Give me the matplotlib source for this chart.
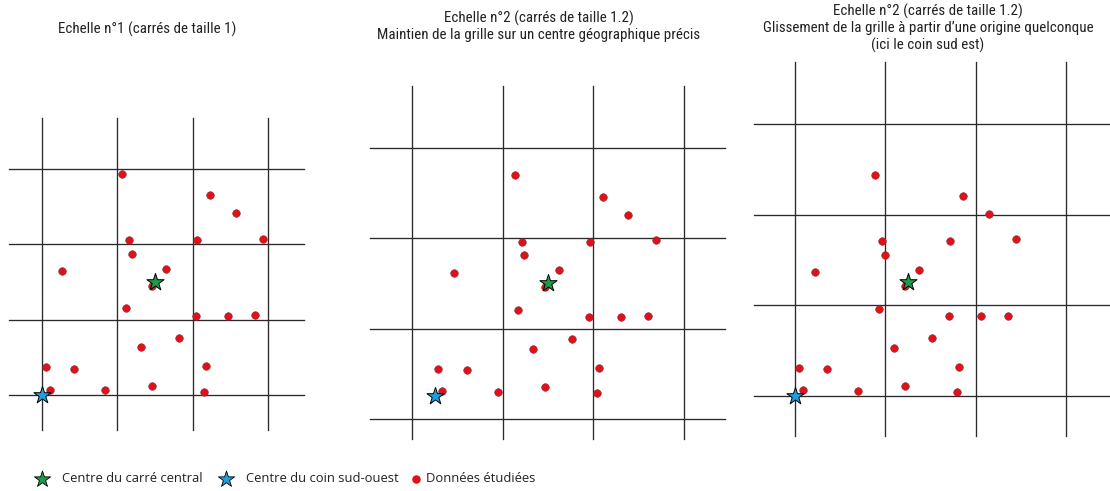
# Grilles d'echelles : trois variantes sur les memes donnees
import numpy as np
import matplotlib.pyplot as plt

# Donnees etudiees (unites de la grille n°1)
pts_x = [1.06, 2.23, 2.57, 1.16, 2.06, 2.93, 1.19, 0.26, 1.65, 1.46, 1.11,
         2.04, 2.47, 2.83, 1.82, 1.31, 0.05, 0.43, 2.18, 0.10, 0.84, 1.46, 2.15]
pts_y = [2.93, 2.65, 2.41, 2.05, 2.05, 2.07, 1.87, 1.64, 1.67, 1.45, 1.15,
         1.05, 1.05, 1.06, 0.76, 0.63, 0.37, 0.35, 0.38, 0.07, 0.06, 0.12, 0.04]

centre_central = (1.5, 1.5)
coin_sud_ouest = (0.0, 0.0)

# taille des carres et premiere ligne de chaque grille
grid_step = [1.0, 1.2, 1.2]
grid_first = [0.0, -0.3, 0.0]
n_lines = 4

titles = ["Echelle n°1 (carrés de taille 1)",
          "Echelle n°2 (carrés de taille 1.2)\nMaintien de la grille sur un centre géographique précis",
          "Echelle n°2 (carrés de taille 1.2)\nGlissement de la grille à partir d\u2019une origine quelconque\n(ici le coin sud est)"]
legend_labels = ['Centre du carré central', 'Centre du coin sud-ouest', 'Données étudiées']

# mise en page (pixels)
W, H = 1110, 491
scale = 75.4
origins = [(42, 395), (434.7, 396.4), (795, 395.5)]
v_ext = [(-0.46, 3.67), (-0.57, 4.12), (-0.54, 4.42)]
h_ext = [(-0.44, 3.48), (-0.86, 3.85), (-0.54, 4.2)]
title_pos = [(147, 29), (539, 26.5), (928, 28.5)]

red, green, blue = '#e3101a', '#1e9b48', '#1f9fdc'
title_font = ['Roboto Condensed', 'DejaVu Sans']
leg_font = ['Open Sans', 'DejaVu Sans']

fig = plt.figure(figsize=(W / 100, H / 100), dpi=100)
xlim, ylim = (-1.2, 4.6), (-0.9, 4.8)

for i in range(3):
    ox, oy = origins[i]
    left = (ox + xlim[0] * scale) / W
    bottom = 1 - (oy - ylim[0] * scale) / H
    width = (xlim[1] - xlim[0]) * scale / W
    height = (ylim[1] - ylim[0]) * scale / H
    ax = fig.add_axes([left, bottom, width, height])
    ax.set_xlim(*xlim)
    ax.set_ylim(*ylim)
    ax.set_axis_off()
    ax.patch.set_visible(False)

    lines = grid_first[i] + grid_step[i] * np.arange(n_lines)
    for v in lines:
        ax.plot([v, v], v_ext[i], color='#2a2a2a', lw=0.95, zorder=1)
        ax.plot(h_ext[i], [v, v], color='#2a2a2a', lw=0.95, zorder=1)

    ax.scatter(pts_x, pts_y, s=30, color=red, edgecolor='#7a3030', linewidth=0.4, zorder=3)
    ax.scatter(*centre_central, marker='*', s=170, color=green, edgecolor='black', linewidth=0.7, zorder=4)
    ax.scatter(*coin_sud_ouest, marker='*', s=170, color=blue, edgecolor='black', linewidth=0.7, zorder=4)

    tx, ty = title_pos[i]
    fig.text(tx / W, 1 - ty / H, titles[i], ha='center', va='center', fontsize=10.8,
             family=title_font, linespacing=1.22, color='#222222')

# legende (axes en pixels sur toute la figure)
lax = fig.add_axes([0, 0, 1, 1])
lax.set_xlim(0, W)
lax.set_ylim(H, 0)
lax.set_axis_off()
lax.patch.set_visible(False)
leg_y = 479
lax.scatter([42], [leg_y], marker='*', s=150, color=green, edgecolor='black', linewidth=0.6)
lax.scatter([226], [leg_y], marker='*', s=150, color=blue, edgecolor='black', linewidth=0.6)
lax.scatter([416], [leg_y], marker='o', s=26, color=red)
for x, lab in zip([62, 246, 426], legend_labels):
    lax.text(x, leg_y, lab, va='center', ha='left', fontsize=9.4, family=leg_font, color='#222222')

fig.savefig('out.png', dpi=100)
